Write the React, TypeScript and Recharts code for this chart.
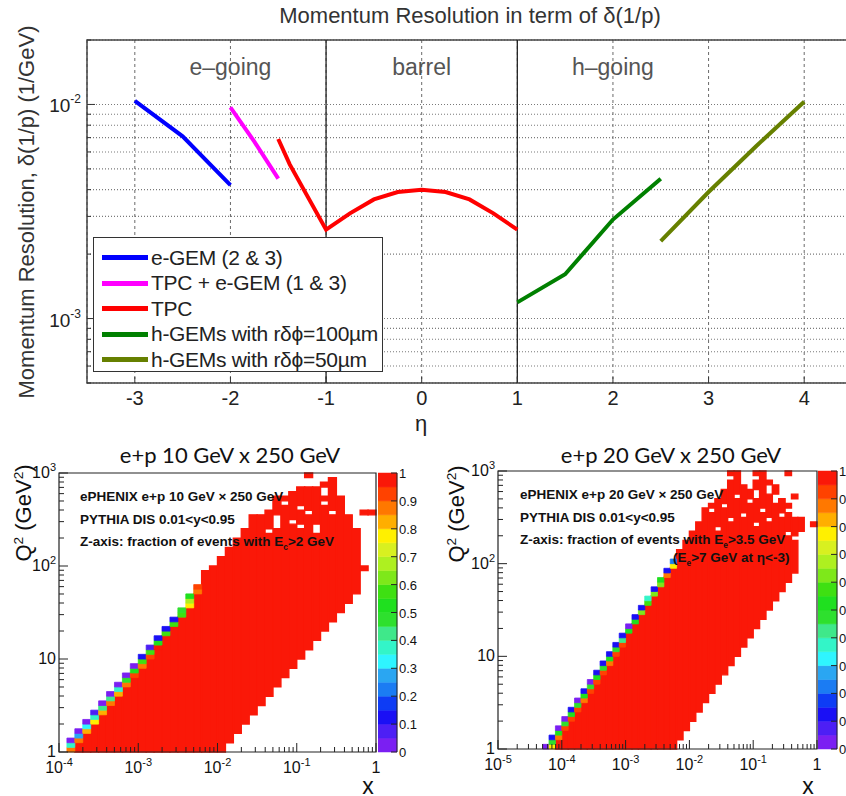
import React from 'react';
import { LineChart, Line, XAxis, YAxis, CartesianGrid, ReferenceLine, ReferenceArea, ScatterChart } from 'recharts';

const SANS = '"Liberation Sans", Arial, Helvetica, sans-serif';
const HUMANIST = 'Lato, "Open Sans", sans-serif';

// ---------- top panel: momentum resolution vs eta ----------
const etaTicks = [-3, -2, -1, 0, 1, 2, 3, 4];
const resMajor = [0.001, 0.01];
const resMinor = [0.0005, 0.0006, 0.0007, 0.0008, 0.0009, 0.002, 0.003, 0.004, 0.005, 0.006, 0.007, 0.008, 0.009, 0.02];
const regionEta = [-2, 0, 2];
const regionNames = ['e\u2013going', 'barrel', 'h\u2013going'];
const boundaryEta = [-1, 1];

const eGemEta = [-3, -2.5, -2];
const eGemRes = [0.0104, 0.0071, 0.0042];
const tpcGemEta = [-2, -1.75, -1.5];
const tpcGemRes = [0.0097, 0.0067, 0.0045];
const tpcEta = [-1.5, -1.38, -1, -0.75, -0.5, -0.25, 0, 0.25, 0.5, 0.75, 1];
const tpcRes = [0.0069, 0.00525, 0.0026, 0.0031, 0.0036, 0.0039, 0.004, 0.0039, 0.0036, 0.0031, 0.0026];
const hGem100Eta = [1, 1.5, 2, 2.5];
const hGem100Res = [0.00119, 0.00161, 0.0029, 0.0045];
const hGem50Eta = [2.5, 3, 3.5, 4];
const hGem50Res = [0.0023, 0.0039, 0.0064, 0.0103];

const seriesNames = ['e-GEM (2 & 3)', 'TPC + e-GEM (1 & 3)', 'TPC', 'h-GEMs with r\u03b4\u03d5=100\u00b5m', 'h-GEMs with r\u03b4\u03d5=50\u00b5m'];
const seriesColors = ['#0000ff', '#ff00ff', '#ff0000', '#008000', '#668000'];
const seriesEta = [eGemEta, tpcGemEta, tpcEta, hGem100Eta, hGem50Eta];
const seriesRes = [eGemRes, tpcGemRes, tpcRes, hGem100Res, hGem50Res];
const seriesData = seriesEta.map((etas, s) => etas.map((eta, k) => ({ eta, res: seriesRes[s][k] })));

// ---------- bottom panels: fraction maps in (x, Q2) ----------
// bins: 10 per decade in x, 20 per decade in Q2 (1..1000)
const X_PER_DECADE = 10;
const Y_PER_DECADE = 20;
const zTicks = [0, 0.1, 0.2, 0.3, 0.4, 0.5, 0.6, 0.7, 0.8, 0.9, 1];
const zPalette = [
  '#7b1ff2', '#4d1ff5', '#1a10f5', '#0e3cf5', '#1b7cf3', '#2aa6f2', '#2ff5ff', '#33f5c8', '#3fe88a', '#2ee02e',
  '#1fe01f', '#3ee012', '#7ee81a', '#aef020', '#d8f020', '#fff000', '#ffae00', '#ff7800', '#ff4200', '#fa1808',
];

// runs of full cells (fraction ~1) per x column: [firstRow, lastRow]
const ep10Runs: number[][][] = [
  [], [], [[0, 1]], [[0, 3]], [[0, 5]], [[0, 7]], [[0, 9]], [[0, 11]], [[0, 13]], [[0, 15]],
  [[0, 17]], [[0, 19]], [[0, 21]], [[0, 24]], [[0, 26]], [[0, 28]], [[0, 30]], [[0, 33]], [[0, 38]], [[0, 39]],
  [[0, 41]], [[2, 43]], [[4, 45]], [[6, 47]], [[8, 50]], [[10, 50]], [[12, 46], [48, 51]], [[14, 47], [51, 54]], [[16, 52], [54, 54]], [[18, 48], [50, 55]],
  [[20, 47], [49, 51], [53, 56]], [[22, 50], [52, 56], [59, 59]], [[24, 46], [49, 56]], [[26, 52], [54, 54], [57, 57]], [[28, 50], [52, 58]], [[30, 54]], [[32, 50]], [[34, 47]], [[39, 39], [51, 51]], [[51, 51]],
];
// partially filled cells along the kinematic edge: [column, row, fraction]
const ep10Edge: number[][] = [
  [1, 0, 0.85], [1, 1, 0.35], [1, 2, 0.02],
  [2, 2, 0.85], [2, 3, 0.27], [2, 4, 0.02],
  [3, 4, 0.83], [3, 5, 0.3], [3, 6, 0.02],
  [4, 6, 0.78], [4, 7, 0.35], [4, 8, 0.05],
  [5, 8, 0.83], [5, 9, 0.42], [5, 10, 0.03],
  [6, 10, 0.85], [6, 11, 0.4], [6, 12, 0.03],
  [7, 12, 0.84], [7, 13, 0.38], [7, 14, 0.02],
  [8, 14, 0.86], [8, 15, 0.45], [8, 16, 0.03],
  [9, 16, 0.92], [9, 17, 0.5], [9, 18, 0.03],
  [10, 18, 0.85], [10, 19, 0.55], [10, 20, 0.1],
  [11, 20, 0.92], [11, 21, 0.55], [11, 22, 0.05],
  [12, 22, 0.95], [12, 23, 0.5], [12, 24, 0.12],
  [13, 25, 0.55], [13, 26, 0.12],
  [14, 27, 0.55], [14, 28, 0.12],
  [15, 29, 0.58], [15, 30, 0.45],
  [16, 31, 0.75], [16, 32, 0.65], [16, 33, 0.5],
  [17, 34, 0.88], [17, 35, 0.93],
];

const ep20Runs: number[][][] = [
  [], [], [], [], [], [], [], [], [], [[0, 1]],
  [[0, 3]], [[0, 5]], [[0, 7]], [[0, 9]], [[0, 11]], [[0, 13]], [[0, 15]], [[0, 17]], [[0, 19]], [[0, 21]],
  [[0, 24]], [[0, 26]], [[0, 28]], [[0, 30]], [[0, 32]], [[0, 34]], [[0, 36]], [[0, 38]], [[2, 42]], [[4, 44]],
  [[6, 46]], [[8, 48]], [[10, 51]], [[12, 50], [52, 52]], [[14, 46], [48, 53]], [[16, 51], [53, 55]], [[18, 48], [50, 57], [59, 59]], [[20, 53], [55, 59]], [[22, 49], [51, 56]], [[24, 52], [54, 55]],
  [[26, 47], [49, 53], [56, 57], [59, 59]], [[28, 50], [52, 59]], [[30, 48], [50, 54], [57, 57]], [[32, 52], [55, 56]], [[34, 49], [51, 53]], [[36, 45], [47, 50], [52, 52], [59, 59]], [[38, 44], [46, 49], [54, 54]], [[47, 49]], [], [[48, 48]],
];
const ep20Edge: number[][] = [
  [7, 0, 0.02],
  [8, 0, 0.75], [8, 1, 0.45], [8, 2, 0.1],
  [9, 2, 0.85], [9, 3, 0.5], [9, 4, 0.02],
  [10, 4, 0.9], [10, 5, 0.48], [10, 6, 0.03],
  [11, 6, 0.92], [11, 7, 0.5], [11, 8, 0.1],
  [12, 8, 0.92], [12, 9, 0.45], [12, 10, 0.03],
  [13, 10, 0.85], [13, 11, 0.5], [13, 12, 0.1],
  [14, 12, 0.92], [14, 13, 0.45], [14, 14, 0.03],
  [15, 14, 0.92], [15, 15, 0.5], [15, 16, 0.1],
  [16, 16, 0.9], [16, 17, 0.48], [16, 18, 0.1],
  [17, 18, 0.85], [17, 19, 0.5], [17, 20, 0.1],
  [18, 20, 0.92], [18, 21, 0.45], [18, 22, 0.1],
  [19, 22, 0.92], [19, 23, 0.42], [19, 24, 0.1],
  [20, 25, 0.5], [20, 26, 0.03],
  [21, 27, 0.5], [21, 28, 0.1],
  [22, 29, 0.6], [22, 30, 0.1],
  [23, 31, 0.55], [23, 32, 0.35],
  [24, 33, 0.62], [24, 34, 0.1],
  [25, 35, 0.62], [25, 36, 0.5],
  [26, 37, 0.85], [26, 38, 0.12],
  [27, 39, 0.78], [27, 40, 0.22],
];

const zColor = (v: number) => zPalette[Math.min(zPalette.length - 1, Math.floor(v * zPalette.length))];

// ---------- ticks ----------
const renderEtaTick = (p: any) => (
  <g>
    <line x1={p.x} x2={p.x} y1={p.y} y2={p.y - 6} stroke="#333" />
    <text x={p.x} y={p.y + 22} textAnchor="middle" fontSize={20} fontFamily={SANS} fill="#222">
      {String(p.payload.value)}
    </text>
  </g>
);

const renderTopTick = (p: any) => <line x1={p.x} x2={p.x} y1={p.y} y2={p.y + 6} stroke="#333" />;

const renderResTick = (p: any) => {
  const v = p.payload.value;
  const major = resMajor.indexOf(v) >= 0;
  return (
    <g>
      <line x1={p.x} x2={p.x + (major ? 8 : 4)} y1={p.y} y2={p.y} stroke="#333" />
      {major && (
        <text x={p.x - 6} y={p.y + 8} textAnchor="end" fontSize={19} fontFamily={SANS} fill="#222">
          10<tspan dy={-9} fontSize={12}>{Math.round(Math.log10(v))}</tspan>
        </text>
      )}
    </g>
  );
};

const powLabel = (e: number) => {
  if (e === 0) return '1';
  if (e === 1) return '10';
  return (
    <>
      10<tspan dy={-7} fontSize={11}>{e}</tspan>
    </>
  );
};

const isDecade = (v: number) => {
  const e = Math.log10(v);
  return Math.abs(e - Math.round(e)) < 1e-6;
};

const renderLogXTick = (p: any) => {
  const v = p.payload.value;
  const major = isDecade(v);
  return (
    <g>
      <line x1={p.x} x2={p.x} y1={p.y} y2={p.y - (major ? 9 : 5)} stroke="#222" />
      {major && (
        <text x={p.x} y={p.y + 21} textAnchor="middle" fontSize={16} fontFamily={SANS} fill="#111">
          {powLabel(Math.round(Math.log10(v)))}
        </text>
      )}
    </g>
  );
};

const renderLogYTick = (p: any) => {
  const v = p.payload.value;
  const major = isDecade(v);
  return (
    <g>
      <line x1={p.x} x2={p.x + (major ? 9 : 5)} y1={p.y} y2={p.y} stroke="#222" />
      {major && (
        <text x={p.x - 3} y={p.y + 5} textAnchor="end" fontSize={16} fontFamily={SANS} fill="#111">
          {powLabel(Math.round(Math.log10(v)))}
        </text>
      )}
    </g>
  );
};

const renderZTick = (p: any) => {
  const v = p.payload.value;
  return (
    <g>
      <line x1={p.x} x2={p.x - 6} y1={p.y} y2={p.y} stroke="#222" />
      <text x={p.x + 2} y={p.y + 5} fontSize={13} fontFamily={SANS} fill="#111">
        {v === 0 || v === 1 ? String(v) : v.toFixed(1)}
      </text>
    </g>
  );
};

const logTicks = (minExp: number, maxExp: number) => {
  const out: number[] = [];
  for (let e = minExp; e <= maxExp; e++) {
    out.push(Math.pow(10, e));
    if (e < maxExp) [2, 3, 4, 5, 6, 7, 8, 9].forEach((m) => out.push(m * Math.pow(10, e)));
  }
  return out;
};

// ---------- components ----------
// axes are 1px thick so that they still draw; margins compensate
const ResolutionChart = () => (
  <LineChart width={870} height={440} margin={{ top: 39, right: 18, bottom: 56, left: 86 }}>
    <CartesianGrid horizontal vertical={false} stroke="#7a7a7a" strokeWidth={1.1} strokeDasharray="1 2" />
    <CartesianGrid horizontal={false} vertical stroke="#6a6a6a" strokeDasharray="3 3" />
    <XAxis dataKey="eta" type="number" domain={[-3.5, 4.5]} allowDataOverflow ticks={etaTicks} interval={0} height={1}
      tickSize={0} tickMargin={0} tickLine={false} axisLine={false} tick={renderEtaTick} />
    <XAxis xAxisId="top" orientation="top" type="number" domain={[-3.5, 4.5]} allowDataOverflow ticks={etaTicks} interval={0} height={1}
      tickSize={0} tickMargin={0} tickLine={false} axisLine={false} tick={renderTopTick} />
    <YAxis type="number" scale="log" domain={[0.0005, 0.02]} allowDataOverflow ticks={[...resMajor, ...resMinor]} interval={0}
      width={1} tickSize={0} tickMargin={0} tickLine={false} axisLine={false} tick={renderResTick} />
    {regionEta.map((eta, k) => (
      <ReferenceLine key={`reg${k}`} x={eta} stroke="none"
        label={{ value: regionNames[k], position: 'insideTop', offset: 19, fill: '#555', fontSize: 23, fontFamily: SANS }} />
    ))}
    {boundaryEta.map((eta) => (
      <ReferenceLine key={`b${eta}`} x={eta} stroke="#222" strokeWidth={1.3} />
    ))}
    <ReferenceArea x1={-3.5} x2={4.5} y1={0.0005} y2={0.02} fill="none" stroke="#444" strokeWidth={1.5} />
    {seriesData.map((d, s) => (
      <Line key={seriesNames[s]} data={d} dataKey="res" name={seriesNames[s]} type="linear" stroke={seriesColors[s]}
        strokeWidth={4} dot={false} isAnimationActive={false} />
    ))}
  </LineChart>
);

const ResolutionLegend = () => (
  <div style={{ position: 'absolute', left: 93, top: 237, width: 290, height: 135, border: '1.5px solid #333', background: '#fff', paddingTop: 7, boxSizing: 'border-box' }}>
    {seriesNames.map((name, s) => (
      <div key={name} style={{ display: 'flex', alignItems: 'center', height: 25.5 }}>
        <div style={{ width: 46, height: 5, background: seriesColors[s], marginLeft: 8, marginRight: 3 }} />
        <span style={{ fontSize: 21, color: '#222', whiteSpace: 'nowrap', letterSpacing: -0.3 }}>{name}</span>
      </div>
    ))}
  </div>
);

interface HeatmapProps {
  runs: number[][][];
  edge: number[][];
  xMinExp: number;
  width: number;
  height: number;
  margin: { top: number; right: number; bottom: number; left: number };
}

const Heatmap = ({ runs, edge, xMinExp, width, height, margin }: HeatmapProps) => {
  const xEdge = (i: number) => Math.pow(10, xMinExp + i / X_PER_DECADE);
  const yEdge = (j: number) => Math.pow(10, j / Y_PER_DECADE);
  const full = zPalette[zPalette.length - 1];
  return (
    <ScatterChart width={width} height={height} margin={margin}>
      <XAxis dataKey="x" type="number" scale="log" domain={[xEdge(0), 1]} allowDataOverflow ticks={logTicks(xMinExp, 0)} interval={0}
        height={1} tickSize={0} tickMargin={0} tickLine={false} axisLine={false} tick={renderLogXTick} />
      <YAxis dataKey="y" type="number" scale="log" domain={[1, 1000]} allowDataOverflow ticks={logTicks(0, 3)} interval={0}
        width={1} tickSize={0} tickMargin={0} tickLine={false} axisLine={false} tick={renderLogYTick} />
      {runs.map((colRuns, i) =>
        colRuns.map(([a, b], k) => (
          <ReferenceArea key={`r${i}-${k}`} x1={xEdge(i)} x2={xEdge(i + 1)} y1={yEdge(a)} y2={yEdge(b + 1)}
            fill={full} fillOpacity={1} stroke={full} strokeWidth={1.4} />
        ))
      )}
      {edge.map(([i, j, v]) => (
        <ReferenceArea key={`e${i}-${j}`} x1={xEdge(i)} x2={xEdge(i + 1)} y1={yEdge(j)} y2={yEdge(j + 1)}
          fill={zColor(v)} fillOpacity={1} stroke={zColor(v)} strokeWidth={0.8} />
      ))}
      <ReferenceArea x1={xEdge(0)} x2={1} y1={1} y2={1000} fill="none" stroke="#222" strokeWidth={1.2} />
    </ScatterChart>
  );
};

const ColorBar = ({ plotHeight }: { plotHeight: number }) => (
  <ScatterChart width={70} height={plotHeight + 21} margin={{ top: 10, right: 50, bottom: 10, left: 0 }}>
    <XAxis dataKey="x" type="number" domain={[0, 1]} allowDataOverflow height={1} tick={false} tickLine={false} axisLine={false} />
    <YAxis dataKey="z" type="number" orientation="right" domain={[0, 1]} allowDataOverflow ticks={zTicks} interval={0} width={1}
      tickSize={0} tickMargin={0} tickLine={false} axisLine={{ stroke: '#222' }} tick={renderZTick} />
    {zPalette.map((c, k) => (
      <ReferenceArea key={c} x1={0} x2={1} y1={k / zPalette.length} y2={(k + 1) / zPalette.length}
        fill={c} fillOpacity={1} stroke={c} strokeWidth={0.5} />
    ))}
  </ScatterChart>
);

const Txt = ({ x, y, size, children, anchor = 'start', rotate = false, weight = 400, family = SANS, color = '#111', lh = 1 }: any) => {
  const tx = anchor === 'middle' || rotate ? '-50%' : anchor === 'end' ? '-100%' : '0';
  return (
    <div style={{
      position: 'absolute', left: x, top: y, fontSize: size, lineHeight: lh, whiteSpace: 'nowrap', fontWeight: weight,
      fontFamily: family, color, transform: `translate(${tx}, -50%)${rotate ? ' rotate(-90deg)' : ''}`,
    }}>
      {children}
    </div>
  );
};

const sup = (s: string) => <sup style={{ fontSize: '0.62em', lineHeight: 0 }}>{s}</sup>;
const sub = (s: string) => <sub style={{ fontSize: '0.62em', lineHeight: 0 }}>{s}</sub>;

export default function App() {
  return (
    <div style={{ position: 'absolute', left: 0, top: 0, width: 846, height: 796, overflow: 'hidden', background: '#fff', fontFamily: SANS }}>
      <div style={{ position: 'absolute', left: 0, top: 0 }}>
        <ResolutionChart />
      </div>
      <ResolutionLegend />
      <Txt x={470} y={16} size={22} anchor="middle" color="#333">Momentum Resolution in term of δ(1/p)</Txt>
      <Txt x={27} y={212} size={22} rotate color="#333">Momentum Resolution, δ(1/p) (1/GeV)</Txt>
      <Txt x={421} y={424} size={22} anchor="middle" color="#222">η</Txt>

      <div style={{ position: 'absolute', left: 0, top: 430 }}>
        <Heatmap runs={ep10Runs} edge={ep10Edge} xMinExp={-4} width={420} height={366}
          margin={{ top: 43, right: 44, bottom: 43, left: 58 }} />
      </div>
      <div style={{ position: 'absolute', left: 378, top: 463 }}>
        <ColorBar plotHeight={279} />
      </div>
      <div style={{ position: 'absolute', left: 420, top: 430 }}>
        <Heatmap runs={ep20Runs} edge={ep20Edge} xMinExp={-5} width={426} height={366}
          margin={{ top: 41, right: 29, bottom: 46, left: 77 }} />
      </div>
      <div style={{ position: 'absolute', left: 818, top: 461 }}>
        <ColorBar plotHeight={278} />
      </div>

      <Txt x={230} y={455} size={22} anchor="middle" family={HUMANIST}>e+p 10 GeV x 250 GeV</Txt>
      <Txt x={671} y={455} size={22} anchor="middle" family={HUMANIST}>e+p 20 GeV x 250 GeV</Txt>
      <Txt x={24} y={513} size={22} rotate>Q{sup('2')} (GeV{sup('2')})</Txt>
      <Txt x={457} y={514} size={22} rotate>Q{sup('2')} (GeV{sup('2')})</Txt>
      <Txt x={368} y={786} size={23} anchor="middle" lh="16px">x</Txt>
      <Txt x={808} y={786} size={23} anchor="middle" lh="16px">x</Txt>

      <Txt x={80} y={497} size={13.5} weight={700}>ePHENIX e+p 10 GeV × 250 GeV</Txt>
      <Txt x={80} y={520} size={13.5} weight={700}>PYTHIA DIS 0.01&lt;y&lt;0.95</Txt>
      <Txt x={80} y={542} size={13.5} weight={700}>Z-axis: fraction of events with E{sub('c')}&gt;2 GeV</Txt>

      <Txt x={520} y={495} size={13.5} weight={700}>ePHENIX e+p 20 GeV × 250 GeV</Txt>
      <Txt x={520} y={518} size={13.5} weight={700}>PYTHIA DIS 0.01&lt;y&lt;0.95</Txt>
      <Txt x={520} y={540} size={13.5} weight={700}>Z-axis: fraction of events with E{sub('e')}&gt;3.5 GeV</Txt>
      <Txt x={673} y={558} size={13.5} weight={700}>(E{sub('e')}&gt;7 GeV at η&lt;-3)</Txt>
    </div>
  );
}
